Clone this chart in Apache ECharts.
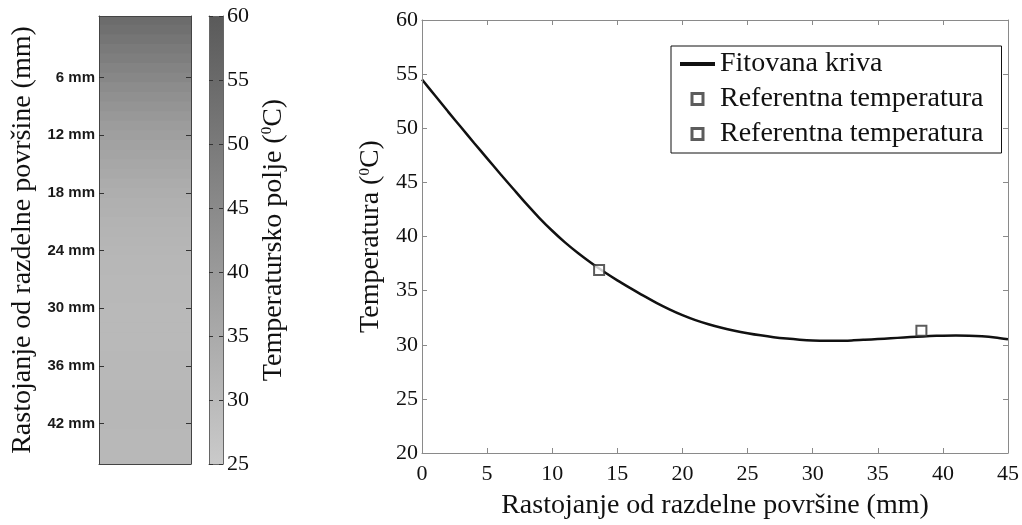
<!DOCTYPE html>
<html>
<head>
<meta charset="utf-8">
<script src="https://cdn.jsdelivr.net/npm/echarts@6/dist/echarts.min.js"></script>
<style>
html,body{margin:0;padding:0;background:#fff;}
#chart{width:1022px;height:525px;}
</style>
</head>
<body>
<div id="chart"></div>
<script>
// Distance from the interface (mm) and fitted temperature (°C)
const distance = [0,1,2,3,4,5,6,7,8,9,10,11,12,13,14,15,16,17,18,19,20,21,22,23,24,25,26,27,28,29,30,31,32,33,34,35,36,37,38,39,40,41,42,43,44,45];
const fittedTemp = [54.5,53.02,51.54,50.09,48.64,47.22,45.8,44.41,43.03,41.73,40.53,39.43,38.45,37.55,36.72,35.95,35.23,34.53,33.87,33.27,32.73,32.27,31.89,31.57,31.3,31.07,30.87,30.7,30.57,30.47,30.4,30.37,30.37,30.4,30.46,30.53,30.6,30.67,30.74,30.8,30.84,30.86,30.84,30.78,30.67,30.5];
const refTemp1 = [[13.6, 36.9]];
const refTemp2 = [[38.35, 31.3]];
const depthTicks = [6,12,18,24,30,36,42];
const colorbarRange = [25, 60];

const SERIF = 'Liberation Serif';
const SANS = 'Liberation Sans';
function grayFor(t){
  const g = Math.round(202 - (t - colorbarRange[0]) / (colorbarRange[1] - colorbarRange[0]) * 112);
  return 'rgb(' + g + ',' + g + ',' + g + ')';
}
const legendNames = {fit: 'Fitovana kriva', ref1: 'Referentna temperatura', ref2: 'Referentna temperatura'};

const chart = echarts.init(document.getElementById('chart'), null, {renderer: 'canvas'});
const boxLine = {show: true, onZero: false, lineStyle: {color: '#444', width: 1}};
const cbLine = {show: true, onZero: false, lineStyle: {color: '#666', width: 1}};
const mainLine = {show: true, onZero: false, lineStyle: {color: '#8a8a8a', width: 1}};
const heatData = distance.map((d, i) => [d, fittedTemp[i]]);
const squareIcon = 'path://M0,0 L10,0 L10,10 L0,10 Z';
const lineIcon = 'path://M0,0 L35,0 L35,4 L0,4 Z';

const option = {
  backgroundColor: '#fff',
  animation: false,
  grid: [
    {left: 99, top: 16, width: 92, height: 448},
    {left: 209, top: 16, width: 14, height: 448},
    {left: 422, top: 20, width: 591, height: 439}
  ],
  xAxis: [
    {gridIndex: 0, type: 'value', min: 0, max: 1, position: 'bottom', z: 5, axisLine: boxLine, axisTick: {show: false}, axisLabel: {show: false}, splitLine: {show: false}},
    {gridIndex: 0, type: 'value', min: 0, max: 1, position: 'top', z: 5, axisLine: boxLine, axisTick: {show: false}, axisLabel: {show: false}, splitLine: {show: false}},
    {gridIndex: 1, type: 'category', data: ['c'], position: 'bottom', z: 5, axisLine: cbLine, axisTick: {show: false}, axisLabel: {show: false}},
    {gridIndex: 1, type: 'category', data: ['c'], position: 'top', z: 5, axisLine: cbLine, axisTick: {show: false}, axisLabel: {show: false}},
    {gridIndex: 2, type: 'value', min: 0, max: 45, interval: 5, position: 'bottom', z: 5,
      axisLine: mainLine, axisTick: {show: true, inside: true, length: 5, lineStyle: {color: '#8a8a8a'}},
      axisLabel: {color: '#111', fontFamily: SERIF, fontSize: 22, margin: 10},
      splitLine: {show: false},
      name: 'Rastojanje od razdelne površine (mm)', nameLocation: 'middle', nameGap: 39,
      nameTextStyle: {color: '#111', fontFamily: SERIF, fontSize: 28}},
    {gridIndex: 2, type: 'value', min: 0, max: 45, interval: 5, position: 'top', z: 5,
      axisLine: mainLine, axisTick: {show: true, inside: true, length: 5, lineStyle: {color: '#8a8a8a'}},
      axisLabel: {show: false}, splitLine: {show: false}}
  ],
  yAxis: [
    {gridIndex: 0, type: 'value', min: -0.4, max: 46.2, inverse: true, position: 'left', z: 5,
      axisLine: boxLine,
      axisTick: {show: true, inside: true, length: 5, customValues: depthTicks, lineStyle: {color: '#333'}},
      axisLabel: {show: true, customValues: depthTicks, formatter: v => v + ' mm', color: '#1a1a1a', fontFamily: SANS, fontWeight: 'bold', fontSize: 15, margin: 4},
      splitLine: {show: false},
      name: 'Rastojanje od razdelne površine (mm)', nameLocation: 'middle', nameGap: 62,
      nameTextStyle: {color: '#111', fontFamily: SERIF, fontSize: 28}},
    {gridIndex: 0, type: 'value', min: -0.4, max: 46.2, inverse: true, position: 'right', z: 5,
      axisLine: boxLine,
      axisTick: {show: true, inside: true, length: 5, customValues: depthTicks, lineStyle: {color: '#333'}},
      axisLabel: {show: false}, splitLine: {show: false}},
    {gridIndex: 1, type: 'value', min: colorbarRange[0], max: colorbarRange[1], interval: 5, position: 'left', z: 5,
      axisLine: cbLine,
      axisTick: {show: true, inside: true, length: 4, lineStyle: {color: '#333'}},
      axisLabel: {show: false}, splitLine: {show: false}},
    {gridIndex: 1, type: 'value', min: colorbarRange[0], max: colorbarRange[1], interval: 5, position: 'right', z: 5,
      axisLine: cbLine,
      axisTick: {show: true, inside: true, length: 4, lineStyle: {color: '#333'}},
      axisLabel: {color: '#111', fontFamily: SERIF, fontSize: 22, margin: 4},
      splitLine: {show: false},
      name: '{a|Temperatursko polje (}{s|0}{a|C)}', nameLocation: 'middle', nameGap: 37, nameRotate: 90,
      nameTextStyle: {color: '#111', rich: {a: {fontFamily: SERIF, fontSize: 28, color: '#111'}, s: {fontFamily: SERIF, fontSize: 15, color: '#111', verticalAlign: 'top', padding: [0, 0, 12, 0]}}}},
    {gridIndex: 2, type: 'value', min: 20, max: 60, interval: 5, position: 'left', z: 5,
      axisLine: mainLine, axisTick: {show: true, inside: true, length: 5, lineStyle: {color: '#8a8a8a'}},
      axisLabel: {color: '#111', fontFamily: SERIF, fontSize: 22, margin: 4},
      splitLine: {show: false},
      name: '{a|Temperatura (}{s|0}{a|C)}', nameLocation: 'middle', nameGap: 26,
      nameTextStyle: {color: '#111', rich: {a: {fontFamily: SERIF, fontSize: 28, color: '#111'}, s: {fontFamily: SERIF, fontSize: 15, color: '#111', verticalAlign: 'top', padding: [0, 0, 12, 0]}}}},
    {gridIndex: 2, type: 'value', min: 20, max: 60, interval: 5, position: 'right', z: 5,
      axisLine: mainLine, axisTick: {show: true, inside: true, length: 5, lineStyle: {color: '#8a8a8a'}},
      axisLabel: {show: false}, splitLine: {show: false}}
  ],
  legend: {
    orient: 'vertical', left: 671, top: 46,
    padding: [3, 18, 4, 9],
    itemWidth: 35, itemHeight: 11, itemGap: 5,
    borderColor: '#111', borderWidth: 1, backgroundColor: '#fff',
    textStyle: {fontFamily: SERIF, fontSize: 28, lineHeight: 30, color: '#111'},
    formatter: n => legendNames[n],
    data: [
      {name: 'fit', icon: lineIcon, itemStyle: {color: '#111', borderWidth: 0}},
      {name: 'ref1', icon: squareIcon, itemStyle: {color: '#fff', borderColor: '#333', borderWidth: 3}},
      {name: 'ref2', icon: squareIcon, itemStyle: {color: '#fff', borderColor: '#333', borderWidth: 3}}
    ]
  },
  series: [
    {
      type: 'custom', xAxisIndex: 0, yAxisIndex: 0, data: heatData, z: 1, silent: true,
      renderItem: function (params, api) {
        const d = api.value(0), t = api.value(1);
        const cs = params.coordSys;
        const last = params.dataIndex === distance.length - 1;
        let yTop = api.coord([0, d - 0.5])[1];
        let yBot = last ? cs.y + cs.height : api.coord([0, d + 0.5])[1] + 1;
        yTop = Math.max(yTop, cs.y);
        return {type: 'rect', shape: {x: cs.x, y: yTop, width: cs.width, height: yBot - yTop},
          style: {fill: grayFor(t)}};
      }
    },
    {
      type: 'bar', xAxisIndex: 2, yAxisIndex: 3, data: [colorbarRange[1]], barWidth: '100%', z: 1, silent: true,
      itemStyle: {color: new echarts.graphic.LinearGradient(0, 0, 0, 1, [
        {offset: 0, color: grayFor(colorbarRange[1])}, {offset: 1, color: grayFor(colorbarRange[0])}])}
    },
    {
      name: 'fit', type: 'line', xAxisIndex: 4, yAxisIndex: 4,
      data: distance.map((d, i) => [d, fittedTemp[i]]),
      symbol: 'none', smooth: 0.3, lineStyle: {color: '#111', width: 2.5}, itemStyle: {color: '#111'}, z: 3
    },
    {
      name: 'ref1', type: 'scatter', xAxisIndex: 4, yAxisIndex: 4, data: refTemp1,
      symbol: 'emptyRect', symbolSize: 10, itemStyle: {color: '#333', borderWidth: 1.8}, z: 4
    },
    {
      name: 'ref2', type: 'scatter', xAxisIndex: 4, yAxisIndex: 4, data: refTemp2,
      symbol: 'emptyRect', symbolSize: 10, itemStyle: {color: '#333', borderWidth: 1.8}, z: 4
    }
  ]
};
chart.setOption(option);
</script>
</body>
</html>
